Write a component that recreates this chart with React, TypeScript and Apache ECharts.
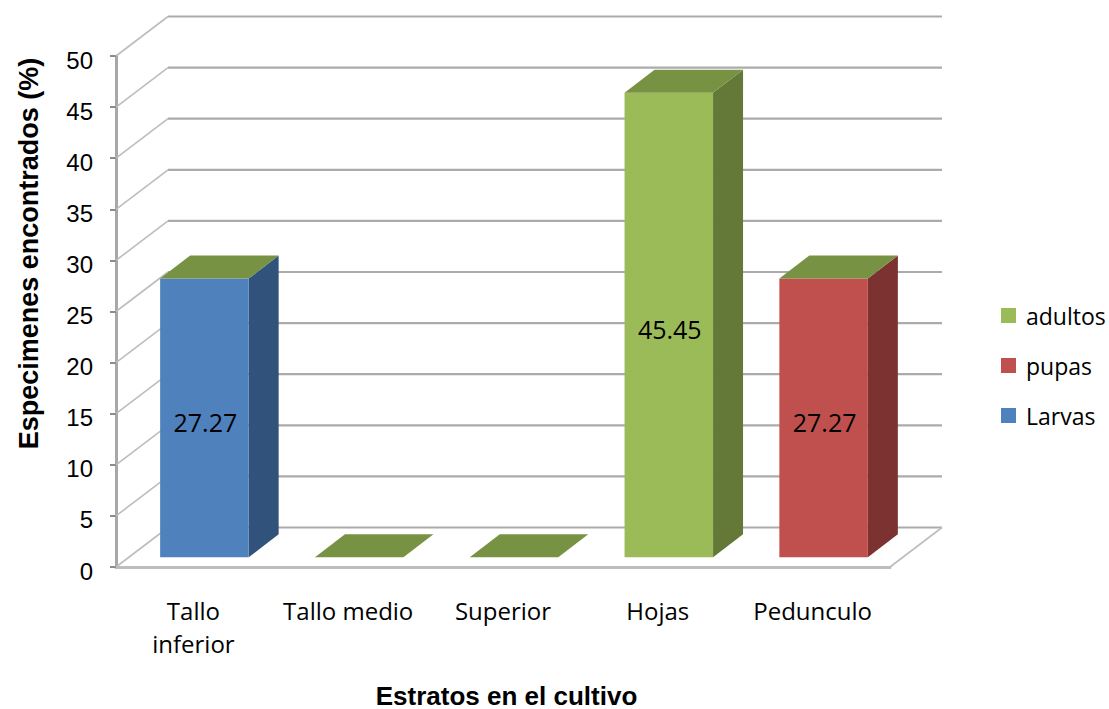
import { useEffect, useRef } from "react";
import * as echarts from "echarts";

const categories = ["Tallo\ninferior", "Tallo medio", "Superior", "Hojas", "Pedunculo"];
const larvas = [27.27, 0, 0, 0, 0];
const pupas = [0, 0, 0, 0, 27.27];
const adultos = [0, 0, 0, 45.45, 0];
const wallTicks = [0, 5, 10, 15, 20, 25, 30, 35, 40, 45, 50];

const labelFont = "Open Sans";
const axisFont = "Liberation Sans";

// Oblique projection of the chart box and of the bars inside it
const WALL_DX = 52;
const WALL_DY = 39.5;
const BAR_WIDTH = 88.5;
const BAR_SHIFT_X = 11;
const BAR_LIFT_Y = 9.7;
const BAR_DX = 30;
const BAR_DY = 23;
const TOP_COLOR = "#789243";

const walls = (params: any, api: any) => {
  const v = api.value(1);
  const box = params.coordSys;
  const y = api.coord([0, v])[1];
  const xL = box.x;
  const xR = box.x + box.width;
  const children: any[] = [
    {
      type: "line",
      shape: { x1: xL, y1: y, x2: xL + WALL_DX, y2: y - WALL_DY },
      style: { stroke: "#bdbdbd", lineWidth: 1.6 },
    },
    {
      type: "line",
      shape: { x1: xL + WALL_DX, y1: y - WALL_DY, x2: xR + WALL_DX, y2: y - WALL_DY },
      style: { stroke: "#ababab", lineWidth: 2.2 },
    },
  ];
  if (v === 0) {
    children.push({
      type: "line",
      shape: { x1: xR, y1: y, x2: xR + WALL_DX, y2: y - WALL_DY },
      style: { stroke: "#bdbdbd", lineWidth: 1.6 },
    });
  }
  return { type: "group", children };
};

const prism = (values: number[], below: number[][], front: string, side: string, withTop: boolean) =>
  (params: any, api: any) => {
    const i = params.dataIndex;
    const value = values[i];
    const base = below.reduce((sum, s) => sum + s[i], 0);
    const [cx, yBase] = api.coord([i, base]);
    const yTop = api.coord([i, base + value])[1];
    const x0 = cx + BAR_SHIFT_X - BAR_WIDTH / 2;
    const x1 = x0 + BAR_WIDTH;
    const yB = yBase - BAR_LIFT_Y;
    const yT = yTop - BAR_LIFT_Y;
    const children: any[] = [];
    if (value > 0) {
      children.push({
        type: "polygon",
        shape: { points: [[x1, yB], [x1 + BAR_DX, yB - BAR_DY], [x1 + BAR_DX, yT - BAR_DY], [x1, yT]] },
        style: { fill: side },
      });
      children.push({
        type: "rect",
        shape: { x: x0, y: yT, width: BAR_WIDTH, height: yB - yT },
        style: { fill: front },
      });
      children.push({
        type: "text",
        style: {
          text: value.toFixed(2),
          x: (x0 + x1) / 2 + 1,
          y: (yB + yT) / 2 + 4,
          align: "center",
          verticalAlign: "middle",
          fontFamily: labelFont,
          fontSize: 25,
          fill: "#000",
        },
      });
    }
    if (withTop) {
      children.push({
        type: "polygon",
        shape: { points: [[x0, yT], [x1, yT], [x1 + BAR_DX, yT - BAR_DY], [x0 + BAR_DX, yT - BAR_DY]] },
        style: { fill: TOP_COLOR },
      });
    }
    return { type: "group", children };
  };

export default function App() {
  const ref = useRef<HTMLDivElement>(null);

  useEffect(() => {
    const chart = echarts.init(ref.current!, undefined, { renderer: "svg" });
    chart.setOption({
      animation: false,
      backgroundColor: "#fff",
      grid: { left: 116, top: 56, width: 774, height: 511, outerBoundsMode: "none" },
      legend: {
        data: ["adultos", "pupas", "Larvas"],
        orient: "vertical",
        left: 996,
        top: 299,
        icon: "rect",
        itemWidth: 15,
        itemHeight: 15,
        itemGap: 27,
        selectedMode: false,
        textStyle: { fontFamily: labelFont, fontSize: 23, color: "#000", lineHeight: 20, padding: [0, 0, 0, 5] },
      },
      xAxis: {
        type: "category",
        data: categories,
        name: "Estratos en el cultivo",
        nameLocation: "middle",
        nameGap: 115.5,
        nameTextStyle: {
          fontFamily: axisFont,
          fontWeight: "bold",
          fontSize: 26,
          color: "#000",
          padding: [0, 0, 0, 7],
        },
        axisLine: { lineStyle: { color: "#bdbdbd", width: 3 } },
        axisTick: { show: false },
        axisLabel: {
          interval: 0,
          margin: 27,
          fontFamily: labelFont,
          fontSize: 24,
          lineHeight: 33,
          color: "#000",
        },
      },
      yAxis: {
        type: "value",
        min: 0,
        max: 50,
        interval: 5,
        name: "Especimenes encontrados (%)",
        nameLocation: "middle",
        nameRotate: 90,
        nameGap: 74,
        nameTextStyle: {
          fontFamily: axisFont,
          fontWeight: "bold",
          fontSize: 27,
          color: "#000",
          padding: [0, 0, 0, 116],
        },
        axisLine: { show: true, lineStyle: { color: "#a8a8a8", width: 3 } },
        axisTick: { show: true, length: 6, lineStyle: { color: "#8c8c8c", width: 2 } },
        axisLabel: {
          margin: 23,
          fontFamily: axisFont,
          fontSize: 24,
          color: "#000",
          verticalAlign: "top",
          lineHeight: 8,
        },
        splitLine: { show: false },
      },
      series: [
        {
          type: "custom",
          name: "walls",
          silent: true,
          clip: false,
          data: wallTicks.map((v) => [0, v]),
          renderItem: walls,
        },
        {
          type: "custom",
          name: "Larvas",
          silent: true,
          clip: false,
          itemStyle: { color: "#4F81BD" },
          data: larvas.map((v, i) => [i, v]),
          renderItem: prism(larvas, [], "#4F81BD", "#30527B", false),
        },
        {
          type: "custom",
          name: "pupas",
          silent: true,
          clip: false,
          itemStyle: { color: "#C0504D" },
          data: pupas.map((v, i) => [i, v]),
          renderItem: prism(pupas, [larvas], "#C0504D", "#7C3230", false),
        },
        {
          type: "custom",
          name: "adultos",
          silent: true,
          clip: false,
          itemStyle: { color: "#9BBB59" },
          data: adultos.map((v, i) => [i, v]),
          renderItem: prism(adultos, [larvas, pupas], "#9BBB59", "#647838", true),
        },
      ],
    });
    return () => chart.dispose();
  }, []);

  return <div ref={ref} style={{ position: "absolute", left: 0, top: 0, width: 1109, height: 709 }} />;
}
